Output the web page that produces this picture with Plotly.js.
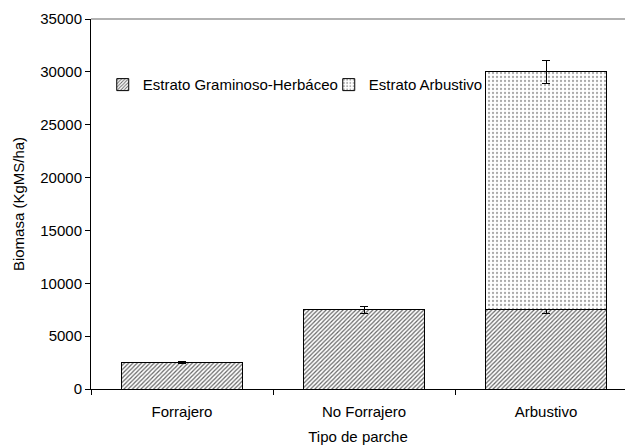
<!DOCTYPE html>
<html>
<head>
<meta charset="utf-8">
<script src="https://cdn.plot.ly/plotly-3.0.1.min.js"></script>
<style>html,body{margin:0;padding:0;background:#fff;}#chart{width:625px;height:445px;}</style>
</head>
<body>
<div id="chart"></div>
<script>
const categories = ["Forrajero", "No Forrajero", "Arbustivo"];
const herbValues = [2500, 7500, 7500];
const herbErrors = [100, 330, 350];
const shrubValues = [0, 0, 22500];
const shrubErrors = [0, 0, 1100];
const yTicks = [0, 5000, 10000, 15000, 20000, 25000, 30000, 35000];

const font = "'Liberation Sans', Arial, sans-serif";
const fs = 15;

const herb = {
  type: "bar", name: "Estrato Graminoso-Herbáceo",
  x: categories, y: herbValues,
  error_y: {type: "data", array: herbErrors, visible: true, color: "#000", thickness: 1, width: 4},
  marker: {color: "#fff", line: {color: "#000", width: 1},
    pattern: {shape: "/", fgcolor: "#666", bgcolor: "#fff", size: 3, solidity: 0.4}}
};
const shrub = {
  type: "bar", name: "Estrato Arbustivo",
  x: categories, y: shrubValues,
  error_y: {type: "data", array: shrubErrors, visible: true, color: "#000", thickness: 1, width: 4},
  marker: {color: "#fff", line: {color: "#000", width: 1},
    pattern: {shape: ".", fgcolor: "#aaa", bgcolor: "#fff", size: 4, solidity: 0.25}}
};

const layout = {
  width: 625, height: 445,
  margin: {l: 91, r: 0, t: 19, b: 56},
  paper_bgcolor: "#fff", plot_bgcolor: "#fff",
  barmode: "stack", bargap: 0.335,
  font: {family: font, size: fs, color: "#000"},
  showlegend: true,
  legend: {orientation: "h", x: 0.022, y: 0.822, xanchor: "left", yanchor: "middle",
    bgcolor: "rgba(0,0,0,0)", font: {family: font, size: fs}, traceorder: "normal",
    itemwidth: 30, tracegroupgap: 0, entrywidth: 181, entrywidthmode: "pixels"},
  xaxis: {
    range: [-0.5, 2.434],
    showline: true, linecolor: "#000", linewidth: 1,
    ticks: "outside", tickson: "boundaries", ticklen: 5, tickcolor: "#000",
    showgrid: false, zeroline: false, ticklabelstandoff: 9,
    title: {text: "Tipo de parche", font: {family: font, size: fs}, standoff: 12},
    tickfont: {family: font, size: fs}
  },
  yaxis: {
    range: [0, 35000], tickvals: yTicks, ticktext: yTicks.map(String),
    showline: true, linecolor: "#000", linewidth: 1,
    ticks: "outside", ticklen: 5, tickcolor: "#000",
    showgrid: false, zeroline: false,
    title: {text: "Biomasa (KgMS/ha)", font: {family: font, size: fs}, standoff: 12},
    tickfont: {family: font, size: fs}
  },
  shapes: [{type: "line", xref: "paper", yref: "paper", x0: 0, x1: 1, y0: 1, y1: 1,
    line: {color: "#999", width: 1.5}}]
};

Plotly.newPlot("chart", [herb, shrub], layout, {displayModeBar: false, staticPlot: true});
</script>
</body>
</html>
